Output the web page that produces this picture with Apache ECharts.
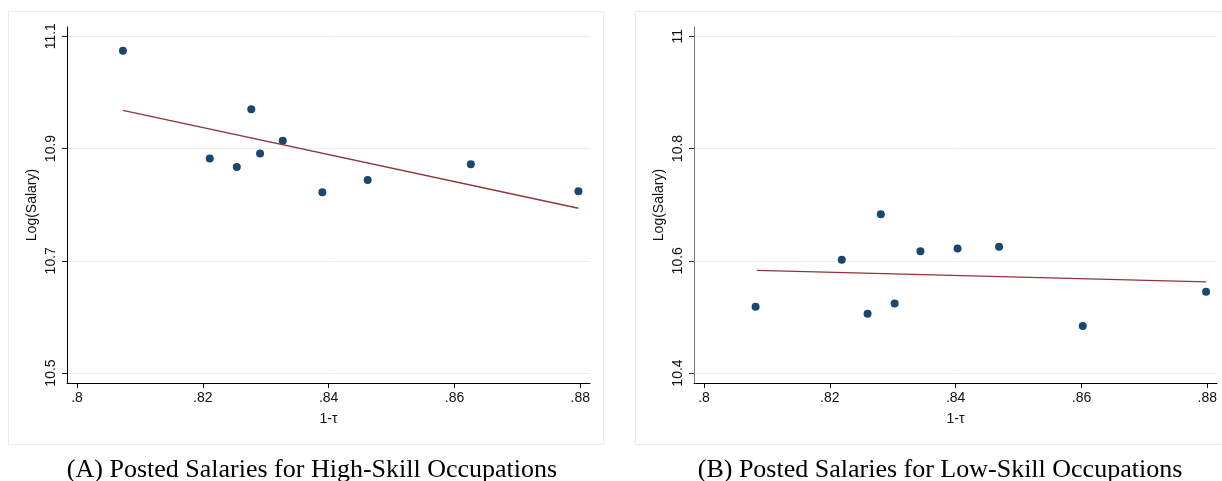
<!DOCTYPE html>
<html><head><meta charset="utf-8">
<script src="https://cdn.jsdelivr.net/npm/echarts@6/dist/echarts.min.js"></script>
<style>html,body{margin:0;padding:0;background:#fff}#c{width:1222px;height:481px}</style>
</head><body><div id="c"></div>
<script>
// ---- data ----
const xTicks = [0.80, 0.82, 0.84, 0.86, 0.88];
const yTicksA = [10.5, 10.7, 10.9, 11.1];
const yTicksB = [10.4, 10.6, 10.8, 11.0];
const xTitle = '1-τ';
const yTitle = 'Log(Salary)';
const captions = ['(A) Posted Salaries for High-Skill Occupations', '(B) Posted Salaries for Low-Skill Occupations'];

const highX = [0.8073, 0.8211, 0.8254, 0.8277, 0.8291, 0.8327, 0.8390, 0.8462, 0.8626, 0.8797];
const highY = [11.074, 10.882, 10.867, 10.970, 10.891, 10.914, 10.822, 10.844, 10.872, 10.824];
const highFitX = [0.8073, 0.8797];
const highFitY = [10.968, 10.7935];

const lowX = [0.8082, 0.8219, 0.8260, 0.8281, 0.8303, 0.8344, 0.8403, 0.8469, 0.8602, 0.8798];
const lowY = [10.518, 10.602, 10.5055, 10.683, 10.524, 10.617, 10.622, 10.625, 10.4836, 10.545];
const lowFitX = [0.8084, 0.8798];
const lowFitY = [10.5828, 10.5624];

// axis extents (Stata pads a little beyond the outer ticks)
const xRange = [0.79841, 0.88154];
const yRangeA = [10.4822, 11.1165];
const yRangeB = [10.3822, 11.0165];

const zip = (a, b) => a.map((v, i) => [v, b[i]]);
const NAVY = '#1a476f', MAROON = '#90353b', GRID = '#e7eff1', TXT = '#111';
const FONT = '"Liberation Sans", Arial, sans-serif';
const SERIF = '"Liberation Serif", "Times New Roman", serif';

function xAxisCfg(gi) {
  return {
    type: 'value', gridIndex: gi, min: xRange[0], max: xRange[1],
    name: xTitle, nameLocation: 'middle', nameGap: 29,
    nameTextStyle: { color: TXT, fontSize: 14, fontFamily: FONT },
    axisLine: { show: true, onZero: false, lineStyle: { color: '#000', width: 1 } },
    axisTick: { show: true, length: 5, customValues: xTicks, lineStyle: { color: '#000' } },
    axisLabel: { customValues: xTicks, margin: 8, color: TXT, fontSize: 14, fontFamily: FONT,
      formatter: v => String(+v.toFixed(2)).replace(/^0/, '') },
    splitLine: { show: false }
  };
}
function yAxisCfg(gi, rng, ticks, axisColor) {
  return {
    type: 'value', gridIndex: gi, min: rng[0], max: rng[1],
    name: yTitle, nameLocation: 'middle', nameGap: 28,
    nameTextStyle: { color: TXT, fontSize: 14, fontFamily: FONT },
    axisLine: { show: true, onZero: false, lineStyle: { color: axisColor, width: 1 } },
    axisTick: { show: true, length: 5, customValues: ticks, lineStyle: { color: '#222' } },
    axisLabel: { customValues: ticks, rotate: 90, margin: 9, color: TXT, fontSize: 14, fontFamily: FONT,
      formatter: v => String(+v.toFixed(1)) },
    splitLine: { show: true, lineStyle: { color: GRID, width: 1 } }
  };
}

const chart = echarts.init(document.getElementById('c'), null, { renderer: 'canvas' });
chart.setOption({
  backgroundColor: '#fff',
  animation: false,
  title: [
    { text: captions[0], left: 307, top: 452, textAlign: 'center',
      textStyle: { fontFamily: SERIF, fontWeight: 'normal', fontSize: 26, color: '#000' } },
    { text: captions[1], left: 935, top: 452, textAlign: 'center',
      textStyle: { fontFamily: SERIF, fontWeight: 'normal', fontSize: 26, color: '#000' } }
  ],
  graphic: [
    { type: 'rect', shape: { x: 8.5, y: 11.5, width: 595, height: 433 }, style: { fill: 'none', stroke: '#e6eef0', lineWidth: 1 }, silent: true, z: -1 },
    { type: 'rect', shape: { x: 635.5, y: 11.5, width: 595, height: 433 }, style: { fill: 'none', stroke: '#e6eef0', lineWidth: 1 }, silent: true, z: -1 }
  ],
  grid: [
    { left: 67, top: 27, width: 523, height: 356 },
    { left: 694, top: 27, width: 523, height: 356 }
  ],
  xAxis: [xAxisCfg(0), xAxisCfg(1)],
  yAxis: [yAxisCfg(0, yRangeA, yTicksA, '#000'), yAxisCfg(1, yRangeB, yTicksB, '#777')],
  series: [
    { type: 'scatter', xAxisIndex: 0, yAxisIndex: 0, data: zip(highX, highY), symbolSize: 8, itemStyle: { color: NAVY, opacity: 1 } },
    { type: 'line', xAxisIndex: 0, yAxisIndex: 0, data: zip(highFitX, highFitY), symbol: 'none', lineStyle: { color: MAROON, width: 1.4 } },
    { type: 'scatter', xAxisIndex: 1, yAxisIndex: 1, data: zip(lowX, lowY), symbolSize: 8, itemStyle: { color: NAVY, opacity: 1 } },
    { type: 'line', xAxisIndex: 1, yAxisIndex: 1, data: zip(lowFitX, lowFitY), symbol: 'none', lineStyle: { color: MAROON, width: 1.4 } }
  ]
});
</script></body></html>
